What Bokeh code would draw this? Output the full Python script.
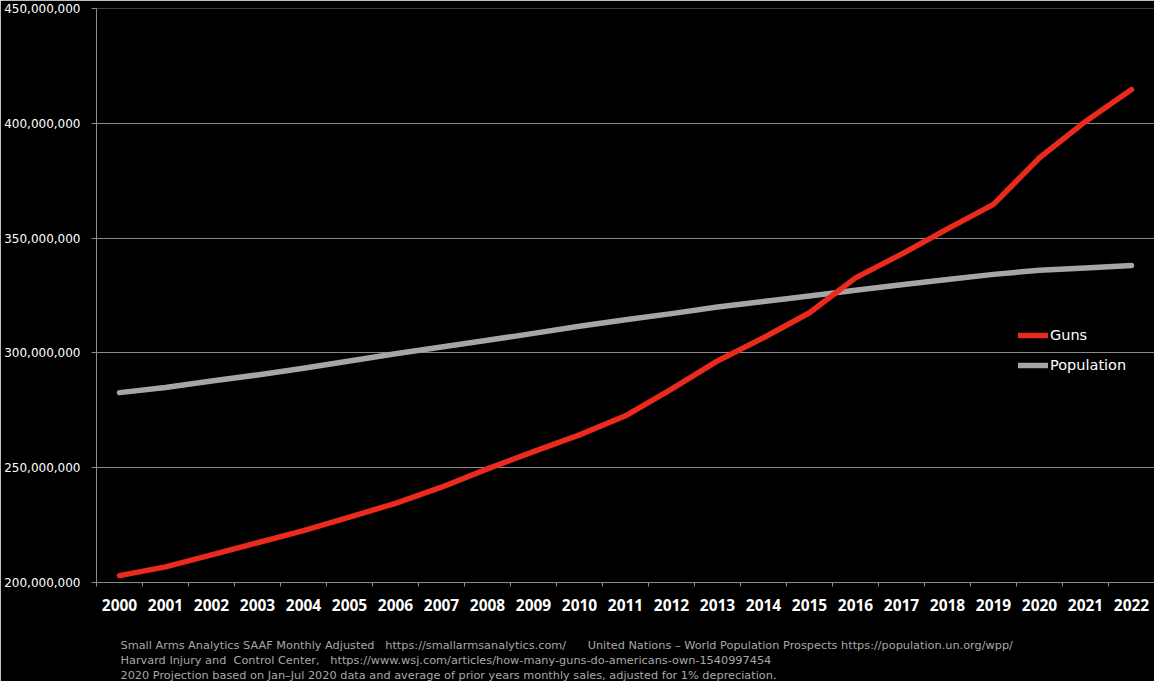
from bokeh.plotting import figure
from bokeh.models import (Range1d, FixedTicker, NumeralTickFormatter, Legend,
                          LegendItem, Title)
from bokeh.embed import file_html
from bokeh.resources import INLINE

years = list(range(2000, 2023))
guns = [203.0, 206.8, 212.0, 217.3, 222.6, 228.5, 234.5, 241.5, 249.5, 257.0,
        264.3, 272.6, 284.2, 296.5, 306.6, 317.5, 332.7, 343.0, 354.0, 364.7,
        385.0, 400.8, 414.7]
population = [282.7, 284.9, 287.8, 290.4, 293.3, 296.5, 299.6, 302.6, 305.5, 308.5,
              311.6, 314.4, 317.1, 320.0, 322.4, 324.8, 327.3, 329.7, 332.0, 334.2,
              336.0, 337.0, 338.1]
guns_abs = [v * 1e6 for v in guns]
population_abs = [v * 1e6 for v in population]
y_ticks = [200e6, 250e6, 300e6, 350e6, 400e6, 450e6]
series_names = ["Guns", "Population"]
NB = "\u00a0"
footer_lines = [
    "Small Arms Analytics SAAF Monthly Adjusted" + NB * 3 + "https://smallarmsanalytics.com/" + NB * 6
    + "United Nations \u2013 World Population Prospects https://population.un.org/wpp/",
    "Harvard Injury and" + NB * 2 + "Control Center," + NB * 3
    + "https://www.wsj.com/articles/how-many-guns-do-americans-own-1540997454",
    "2020 Projection based on Jan\u2013Jul 2020 data and average of prior years monthly sales, adjusted for 1% depreciation.",
]

p = figure(frame_width=1058, frame_height=574,
           x_range=Range1d(1999.5, 2022.5), y_range=Range1d(200e6, 450e6),
           output_backend="svg", toolbar_location=None,
           background_fill_color="black", border_fill_color="black",
           min_border_left=96, min_border_right=0, min_border_top=8,
           min_border_bottom=0, outline_line_color=None)

r_p = p.line(years, population_abs, line_color="#a6a6a6", line_width=5.5,
             line_cap="round", line_join="round")
r_g = p.line(years, guns_abs, line_color="#ea2a1c", line_width=5.5,
             line_cap="round", line_join="round")

# x axis
p.xaxis.ticker = FixedTicker(ticks=years,
                             minor_ticks=[y - 0.5 for y in years] + [years[-1] + 0.5])
p.xaxis.major_tick_line_color = None
p.xaxis.major_tick_out = 0
p.xaxis.major_tick_in = 0
p.xaxis.minor_tick_out = 4
p.xaxis.minor_tick_in = 0
p.xaxis.minor_tick_line_color = "#8c8c8c"
p.xaxis.axis_line_color = "#8c8c8c"
p.xaxis.major_label_text_font = "Open Sans"
p.xaxis.major_label_text_font_style = "bold"
p.xaxis.major_label_text_font_size = "15.5px"
p.xaxis.major_label_text_color = "white"
p.xaxis.major_label_standoff = 12

# y axis
p.yaxis.ticker = FixedTicker(ticks=y_ticks)
p.yaxis.formatter = NumeralTickFormatter(format="0,0")
p.yaxis.major_tick_out = 5
p.yaxis.major_tick_in = 0
p.yaxis.minor_tick_line_color = None
p.yaxis.major_tick_line_color = "#8c8c8c"
p.yaxis.axis_line_color = "#8c8c8c"
p.yaxis.major_label_text_font = "DejaVu Sans"
p.yaxis.major_label_text_font_size = "12px"
p.yaxis.major_label_text_color = "white"
p.yaxis.major_label_standoff = 11

p.xgrid.visible = False
p.ygrid.ticker = FixedTicker(ticks=y_ticks)
p.ygrid.grid_line_color = "#8a8a8a"
p.ygrid.grid_line_width = 1

legend = Legend(items=[LegendItem(label=series_names[0], renderers=[r_g]),
                       LegendItem(label=series_names[1], renderers=[r_p])],
                location=(922, 207), background_fill_alpha=0, border_line_alpha=0,
                label_text_color="white", label_text_font="DejaVu Sans",
                label_text_font_size="14.5px", glyph_width=30, glyph_height=20,
                label_height=20, spacing=10, padding=0, margin=0, label_standoff=2)
p.add_layout(legend)

p.add_layout(Title(text=" ", text_font_size="1px", standoff=20), "below")
for line in footer_lines:
    p.add_layout(Title(text=line, align="left", offset=24,
                       text_font="DejaVu Sans", text_font_size="11.3px",
                       text_font_style="normal", text_color="#a8a8a8",
                       standoff=0), "below")

open("out.html", "w").write(file_html(p, INLINE))
